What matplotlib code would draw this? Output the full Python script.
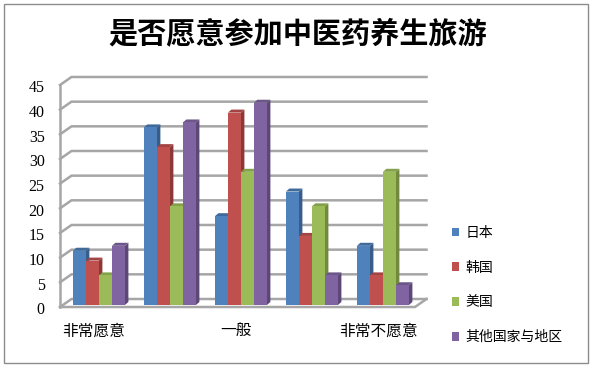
"""是否愿意参加中医药养生旅游: pseudo-3D grouped bars in matplotlib."""
import matplotlib
matplotlib.use("Agg")
import matplotlib.pyplot as plt
from matplotlib.patches import Patch, Polygon, Rectangle
from matplotlib.transforms import ScaledTranslation

plt.rcParams["font.family"] = ["Noto Sans CJK SC", "DejaVu Sans"]

TITLE = "是否愿意参加中医药养生旅游"
CATEGORY_LABELS = ["非常愿意", "", "一般", "", "非常不愿意"]
Y_TICKS = list(range(0, 50, 5))

SERIES_NAMES = ["日本", "韩国", "美国", "其他国家与地区"]
JAPAN = [11, 36, 18, 23, 12]
KOREA = [9, 32, 39, 14, 6]
USA = [6, 20, 27, 20, 27]
OTHER = [12, 37, 41, 6, 4]
SERIES = [JAPAN, KOREA, USA, OTHER]

FRONT = ["#4f81bd", "#c0504d", "#9bbb59", "#8064a2"]
SIDE = ["#385d8a", "#8c3836", "#71893f", "#5c4776"]
TOP = ["#3f6a9c", "#a34442", "#83a04b", "#6c5589"]
GRID = "#a6a6a6"

W, H = 593, 370
PITCH = 71.0  # px per category
UNIT = 4.93  # px per value unit


def px_x(p):
    return p / PITCH


def px_y(p):
    return p / UNIT


fig = plt.figure(figsize=(W / 100, H / 100), dpi=100, facecolor="white")
fig.add_artist(Rectangle((3.5 / W, 1 - 363 / H), 584 / W, 359.5 / H, transform=fig.transFigure,
                         fill=False, ec="#8c8c8c", lw=1.0))
fig.text(297.5 / W, 1 - 33.5 / H, TITLE, ha="center", va="center", fontsize=21,
         fontweight="bold", color="black")

ax = fig.add_axes([60 / W, 1 - 307 / H, 355 / W, 222 / H])
ax.set_xlim(-0.5, 4.5)
ax.set_ylim(0, 45)
for s in ax.spines.values():
    s.set_visible(False)
ax.patch.set_visible(False)

# walls and floor
wall_dx, wall_dy = px_x(11.5), px_y(8)
for v in Y_TICKS:
    ax.plot([-0.5, -0.5 + wall_dx, 4.5 + wall_dx], [v, v + wall_dy, v + wall_dy],
            color=GRID, lw=1.8, clip_on=False, zorder=1, solid_joinstyle="miter")
ax.plot([-0.5, -0.5], [0, 45], color=GRID, lw=1.8, clip_on=False, zorder=1)
ax.plot([-0.5, 4.5, 4.5 + wall_dx], [0, 0, wall_dy], color=GRID, lw=1.8, clip_on=False, zorder=2)

# bars: front face through ax.bar, side and top as sheared polygons
bar_w = px_x(13)
base = px_y(2)
dx, dy = px_x(3.5), px_y(3)
for i, values in enumerate(SERIES):
    for c, v in enumerate(values):
        x0 = c + px_x(3.4) + (i - 2) * bar_w
        top = v + base
        z = 3 + i * 0.1
        ax.add_patch(Polygon([(x0 + bar_w, base), (x0 + bar_w + dx, base + dy),
                              (x0 + bar_w + dx, top + dy), (x0 + bar_w, top)],
                             fc=SIDE[i], ec="none", zorder=z, clip_on=False))
        ax.add_patch(Polygon([(x0, top), (x0 + dx, top + dy),
                              (x0 + bar_w + dx, top + dy), (x0 + bar_w, top)],
                             fc=TOP[i], ec="none", zorder=z, clip_on=False))
        ax.bar(x0, v, width=bar_w, bottom=base, align="edge", color=FRONT[i], zorder=z + 0.05)

ax.set_yticks(Y_TICKS)
ax.set_yticklabels([str(v) for v in Y_TICKS], fontfamily="Liberation Serif", fontsize=11.5)
ax.set_xticks(range(5))
ax.set_xticklabels(CATEGORY_LABELS, fontsize=11.3)
ax.tick_params(axis="y", length=0, pad=11)
ax.tick_params(axis="x", length=0, pad=11)

# tick labels sit a bit below their gridlines in the reference
nudge = ScaledTranslation(0, -1.5 / 100, fig.dpi_scale_trans)
for label in ax.get_yticklabels():
    label.set_transform(label.get_transform() + nudge)
x_nudge = ScaledTranslation(-1.5 / 100, 0, fig.dpi_scale_trans)
for label in ax.get_xticklabels():
    label.set_transform(label.get_transform() + x_nudge)

handles = [Patch(fc=c, ec="none") for c in FRONT]
fig.legend(handles, SERIES_NAMES, loc="center left", bbox_to_anchor=(439 / W, 1 - 285 / H),
           frameon=False, fontsize=10, handlelength=0.55, handleheight=0.55,
           handletextpad=0.45, labelspacing=1.5)

fig.savefig("out.png", dpi=100)
